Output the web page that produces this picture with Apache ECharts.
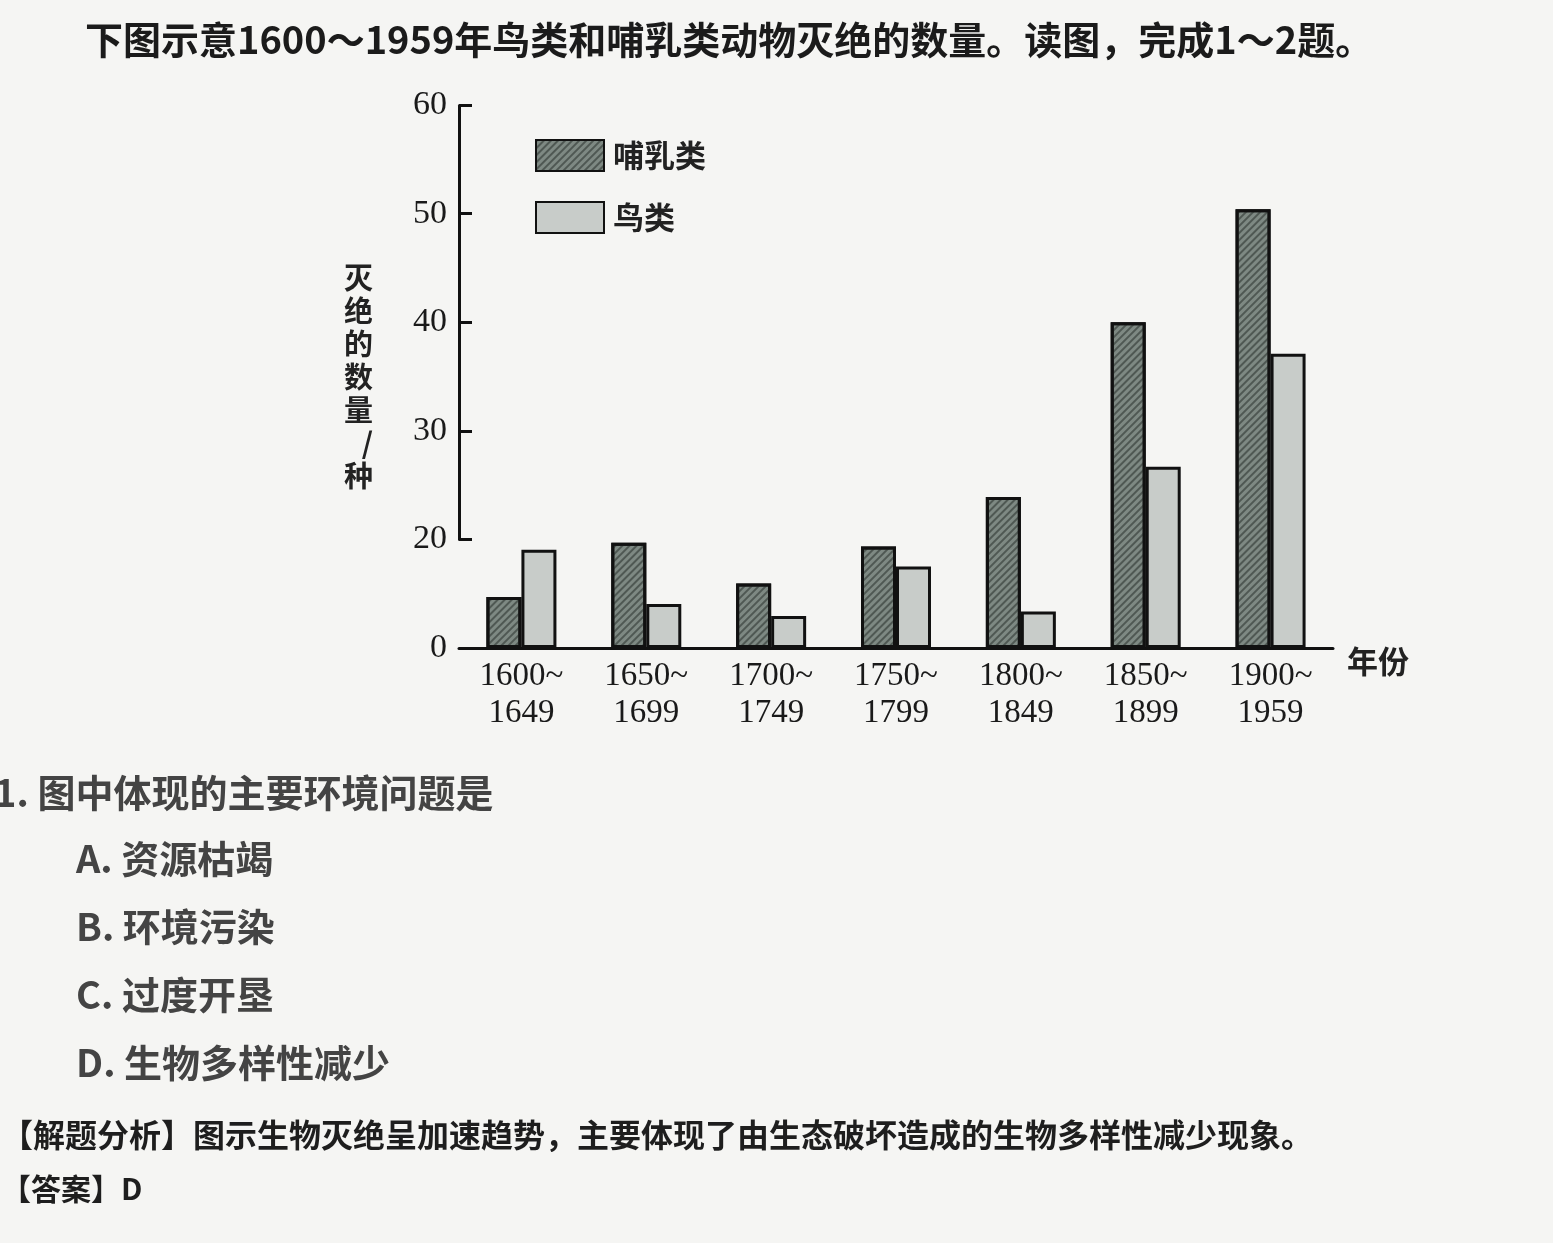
<!DOCTYPE html>
<html><head><meta charset="utf-8">
<script src="https://cdn.jsdelivr.net/npm/echarts@6/dist/echarts.min.js"></script>
<style>html,body{margin:0;padding:0;background:#f5f5f3;} #c{width:1553px;height:1243px;}</style>
</head><body><div id="c"></div>
<script>
// ---- data ----
const categories = ['1600~\n1649', '1650~\n1699', '1700~\n1749', '1750~\n1799', '1800~\n1849', '1850~\n1899', '1900~\n1959'];
const seriesNames = ['哺乳类', '鸟类'];
const mammals = [9.4, 19.4, 11.9, 18.7, 23.9, 40, 50.4];
const birds = [18.1, 8.1, 5.9, 15, 6.7, 26.7, 37.1];
const yTickLabels = [0, 20, 30, 40, 50, 60];
const yAxisName = '灭绝的数量/种';
const xAxisName = '年份';
const titleText = '下图示意1600～1959年鸟类和哺乳类动物灭绝的数量。读图，完成1～2题。';
const questionText = '1. 图中体现的主要环境问题是';
const optionTexts = ['A. 资源枯竭', 'B. 环境污染', 'C. 过度开垦', 'D. 生物多样性减少'];
const analysisText = '【解题分析】图示生物灭绝呈加速趋势，主要体现了由生态破坏造成的生物多样性减少现象。';
const answerText = '【答案】D';

const chart = echarts.init(document.getElementById('c'));
const serif = '"Liberation Serif", "DejaVu Serif", serif';
const cjk = '"Noto Sans CJK SC", sans-serif';

const graphics = [
  { type: 'text', left: 85, top: 21, style: { text: titleText, font: 'bold 38px ' + cjk, fill: '#1b1b1b' } },
  { type: 'text', left: -6, top: 774, style: { text: questionText, font: 'bold 38px ' + cjk, fill: '#444' } },
  { type: 'text', left: 1, top: 1119, style: { text: analysisText, font: 'bold 32px ' + cjk, fill: '#1e1e1e' } },
  { type: 'text', left: 1, top: 1174, style: { text: answerText, font: 'bold 30px ' + cjk, fill: '#1e1e1e' } }
];
optionTexts.forEach((t, i) => {
  graphics.push({ type: 'text', left: 76, top: 840 + i * 68, style: { text: t, font: 'bold 38px ' + cjk, fill: '#444' } });
});

chart.setOption({
  backgroundColor: '#f5f5f3',
  animation: false,
  grid: { left: 459, top: 105, width: 874, height: 543 },
  legend: {
    left: 530, top: 134, orient: 'vertical', itemWidth: 68, itemHeight: 31, itemGap: 29, icon: 'rect',
    textStyle: { fontFamily: cjk, fontSize: 31, fontWeight: 'bold', color: '#222', padding: [0, 0, 0, 4] },
    data: seriesNames
  },
  xAxis: {
    type: 'category', data: categories, boundaryGap: true,
    name: xAxisName, nameLocation: 'end', nameGap: 14,
    nameTextStyle: { fontFamily: cjk, fontSize: 31, fontWeight: 'bold', color: '#222', verticalAlign: 'top', padding: [-2, 0, 0, 0] },
    axisLine: { lineStyle: { color: '#111', width: 3 } },
    axisTick: { inside: true, length: 14, lineStyle: { color: '#111', width: 3 } },
    axisLabel: { fontFamily: serif, fontSize: 33, color: '#1a1a1a', lineHeight: 37, margin: 10 }
  },
  yAxis: {
    type: 'value', min: 0, max: 60, interval: 10,
    breaks: [{ start: 0, end: 20, gap: 10 }],
    breakArea: { show: false },
    name: yAxisName.split('').join('\n'), nameLocation: 'middle', nameGap: 86, nameRotate: 0,
    nameTextStyle: { fontFamily: cjk, fontSize: 29, fontWeight: 'bold', color: '#222', lineHeight: 33 },
    splitLine: { show: false },
    axisLine: { show: true, lineStyle: { color: '#111', width: 3 } },
    axisTick: { show: true, inside: true, length: 13, lineStyle: { color: '#111', width: 3 } },
    axisLabel: {
      fontFamily: serif, fontSize: 34, color: '#1a1a1a', margin: 12,
      formatter: v => (yTickLabels.indexOf(v) >= 0 ? String(v) : '')
    }
  },
  series: [
    {
      name: seriesNames[0], type: 'bar', data: mammals, barWidth: 35, barGap: '0%',
      itemStyle: {
        color: '#7e8983', borderColor: '#111', borderWidth: 3,
        decal: { symbol: 'rect', symbolSize: 1, dashArrayX: [1, 0], dashArrayY: [2, 3], rotation: -Math.PI / 4, color: 'rgba(40,48,44,0.55)' }
      }
    },
    {
      name: seriesNames[1], type: 'bar', data: birds, barWidth: 35, barGap: '0%',
      itemStyle: { color: '#c8ccc9', borderColor: '#111', borderWidth: 3 }
    }
  ],
  graphic: graphics
});
</script></body></html>
